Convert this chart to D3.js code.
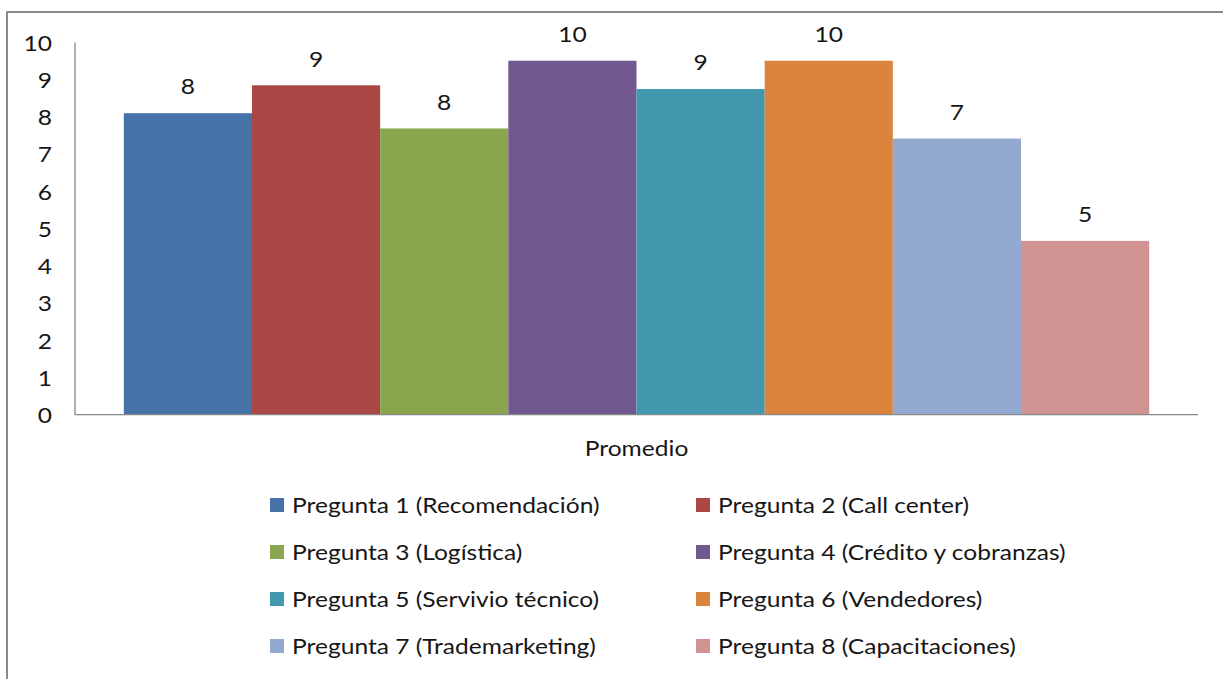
<!DOCTYPE html>
<html>
<head>
<meta charset="utf-8">
<script src="https://cdn.jsdelivr.net/npm/d3@7"></script>
<style>
  html, body { margin: 0; padding: 0; background: #fff; }
  svg { display: block; }
  text { font-family: Lato, "Open Sans", sans-serif; fill: #161616; }
</style>
</head>
<body>
<svg id="chart" width="1223" height="679"></svg>
<script>
// Survey results: average score per question
const category = "Promedio";
const questions = [
  "Pregunta 1 (Recomendación)",
  "Pregunta 2 (Call center)",
  "Pregunta 3 (Logística)",
  "Pregunta 4 (Crédito y cobranzas)",
  "Pregunta 5 (Servivio técnico)",
  "Pregunta 6 (Vendedores)",
  "Pregunta 7 (Trademarketing)",
  "Pregunta 8 (Capacitaciones)"
];
const averages = [8.10, 8.85, 7.69, 9.51, 8.75, 9.51, 7.42, 4.67];
const yTicks = [0, 1, 2, 3, 4, 5, 6, 7, 8, 9, 10];
const colors = ["#4572A7", "#AA4643", "#89A54E", "#71588F", "#4198AF", "#DB843D", "#93A9CF", "#D19392"];

const svg = d3.select("#chart");
const fontSize = 21;
const stretch = 1.17; // widen glyphs horizontally

// Chart frame
svg.append("rect")
  .attr("x", 7).attr("y", 12)
  .attr("width", 1240).attr("height", 700)
  .attr("fill", "none").attr("stroke", "#8a8a8a").attr("stroke-width", 2);

const plot = { left: 75, right: 1198, top: 42.5, bottom: 414.7 };

const x0 = d3.scaleBand().domain([category]).range([plot.left, plot.right]).paddingInner(0).paddingOuter(0.0476);
const x1 = d3.scaleBand().domain(questions).range([0, x0.bandwidth()]).padding(0);
const y = d3.scaleLinear().domain([0, 10]).range([plot.bottom, plot.top]);

function stretchedText(sel, xPos, yPos) {
  return sel.attr("transform", `translate(${xPos},${yPos}) scale(${stretch},1)`);
}

// Bars
const group = svg.append("g").attr("transform", `translate(${x0(category)},0)`);
group.selectAll("rect")
  .data(questions.map((q, i) => ({ q, v: averages[i], c: colors[i] })))
  .join("rect")
  .attr("x", d => x1(d.q))
  .attr("y", d => y(d.v))
  .attr("width", x1.bandwidth())
  .attr("height", d => y(0) - y(d.v))
  .attr("fill", d => d.c);

// Value labels
group.selectAll("text.val")
  .data(questions.map((q, i) => ({ q, v: averages[i] })))
  .join("text")
  .attr("class", "val")
  .attr("text-anchor", "middle")
  .attr("dominant-baseline", "central")
  .style("font-size", fontSize + "px")
  .each(function(d) { stretchedText(d3.select(this), x1(d.q) + x1.bandwidth() / 2, y(d.v) - 27); })
  .text(d => d3.format(".0f")(d.v));

// Axes lines
svg.append("line")
  .attr("x1", plot.left).attr("x2", plot.left)
  .attr("y1", plot.top).attr("y2", plot.bottom)
  .attr("stroke", "#868686").attr("stroke-width", 1.3);
svg.append("line")
  .attr("x1", plot.left).attr("x2", plot.right)
  .attr("y1", plot.bottom).attr("y2", plot.bottom)
  .attr("stroke", "#868686").attr("stroke-width", 1.3);

// Y tick labels
svg.selectAll("text.ytick")
  .data(yTicks)
  .join("text")
  .attr("class", "ytick")
  .attr("text-anchor", "end")
  .attr("dominant-baseline", "central")
  .style("font-size", fontSize + "px")
  .each(function(d) { stretchedText(d3.select(this), 52, y(d)); })
  .text(d => d);

// Category label
svg.append("text")
  .attr("text-anchor", "middle")
  .attr("dominant-baseline", "central")
  .style("font-size", fontSize + "px")
  .call(s => stretchedText(s, x0(category) + x0.bandwidth() / 2, 448))
  .text(category);

// Legend: two columns, four rows
const legendCols = [270, 696];
const legendRows = [505, 552, 599, 646];
const legend = svg.append("g");
const items = legend.selectAll("g")
  .data(questions.map((q, i) => ({ q, c: colors[i], col: i % 2, row: Math.floor(i / 2) })))
  .join("g")
  .attr("transform", d => `translate(${legendCols[d.col]},${legendRows[d.row]})`);
items.append("rect")
  .attr("x", 0).attr("y", -7)
  .attr("width", 14).attr("height", 14)
  .attr("fill", d => d.c);
items.append("text")
  .attr("dominant-baseline", "central")
  .style("font-size", fontSize + "px")
  .each(function() { stretchedText(d3.select(this), 22, 0); })
  .text(d => d.q);
</script>
</body>
</html>
